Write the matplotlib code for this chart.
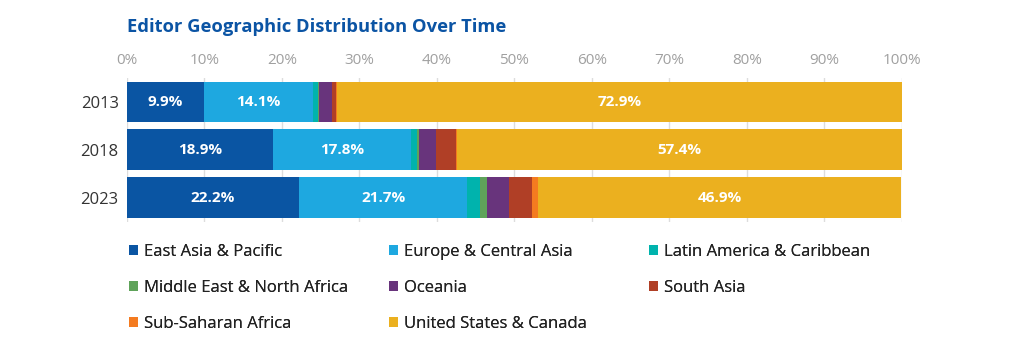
import matplotlib
matplotlib.use("Agg")
import matplotlib.pyplot as plt
import numpy as np

years = ["2013", "2018", "2023"]
regions = [
    "East Asia & Pacific",
    "Europe & Central Asia",
    "Latin America & Caribbean",
    "Middle East & North Africa",
    "Oceania",
    "South Asia",
    "Sub-Saharan Africa",
    "United States & Canada",
]
# 各年の割合(%)
east_asia = [9.9, 18.9, 22.2]
europe = [14.1, 17.8, 21.7]
latin = [0.7, 0.7, 1.6]
mena = [0.1, 0.3, 0.9]
oceania = [1.7, 2.2, 2.9]
south_asia = [0.5, 2.6, 2.9]
ssa = [0.1, 0.1, 0.8]
us_canada = [72.9, 57.4, 46.9]
labelled = ["East Asia & Pacific", "Europe & Central Asia", "United States & Canada"]

colors = ["#0a55a3", "#1ea8e0", "#00b3ad", "#5fa35a",
          "#68347c", "#b03f26", "#f47b20", "#ebb01f"]

plt.rcParams["font.family"] = ["Open Sans", "DejaVu Sans"]

series = [east_asia, europe, latin, mena, oceania, south_asia, ssa, us_canada]

fig = plt.figure(figsize=(10.12, 3.51), dpi=100)
ax = fig.add_axes([127 / 1012, 1 - 221.5 / 351, 775 / 1012, 143.5 / 351])

y = np.arange(len(years))
left = np.zeros(len(years))
handles = []
for name, vals, c in zip(regions, series, colors):
    vals = np.array(vals)
    h = ax.barh(y, vals, left=left, height=0.85, color=c, zorder=2, label=name)
    handles.append(h)
    if name in labelled:
        for yi, (l, v) in enumerate(zip(left, vals)):
            ax.text(l + v / 2, yi, f"{v:.1f}%", ha="center", va="center",
                    color="white", fontsize=11, fontweight="bold")
    left += vals

ax.set_xlim(0, 100)
ax.set_ylim(2.5, -0.5)
ax.set_yticks(y)
ax.set_yticklabels(years, fontsize=12, color="#333333")
ax.set_xticks(np.arange(0, 101, 10))
ax.set_xticklabels([f"{t}%" for t in range(0, 101, 10)], fontsize=11, color="#a0a0a0")
ax.xaxis.tick_top()
ax.tick_params(length=0, pad=7)
ax.tick_params(axis="y", pad=6)
ax.grid(axis="x", color="#dddddd", linewidth=1, zorder=0)
for s in ax.spines.values():
    s.set_visible(False)

fig.text(127 / 1012, 1 - 27 / 351, "Editor Geographic Distribution Over Time",
         fontsize=13.2, fontweight="bold", color="#0b54a4", va="center")

# 凡例 (3列)
col_x = [122, 382, 642]
for ci in range(3):
    idx = [i for i in range(ci, len(regions), 3)]
    leg = fig.legend([handles[i] for i in idx], [regions[i] for i in idx],
                     loc="upper left", bbox_to_anchor=(col_x[ci] / 1012, 1 - 237 / 351),
                     frameon=False, fontsize=12, handlelength=0.55, handleheight=0.55,
                     handletextpad=0.4, labelspacing=1.2, borderaxespad=0,
                     labelcolor="#222222")
    fig.add_artist(leg)

fig.savefig("out.png", dpi=100)
